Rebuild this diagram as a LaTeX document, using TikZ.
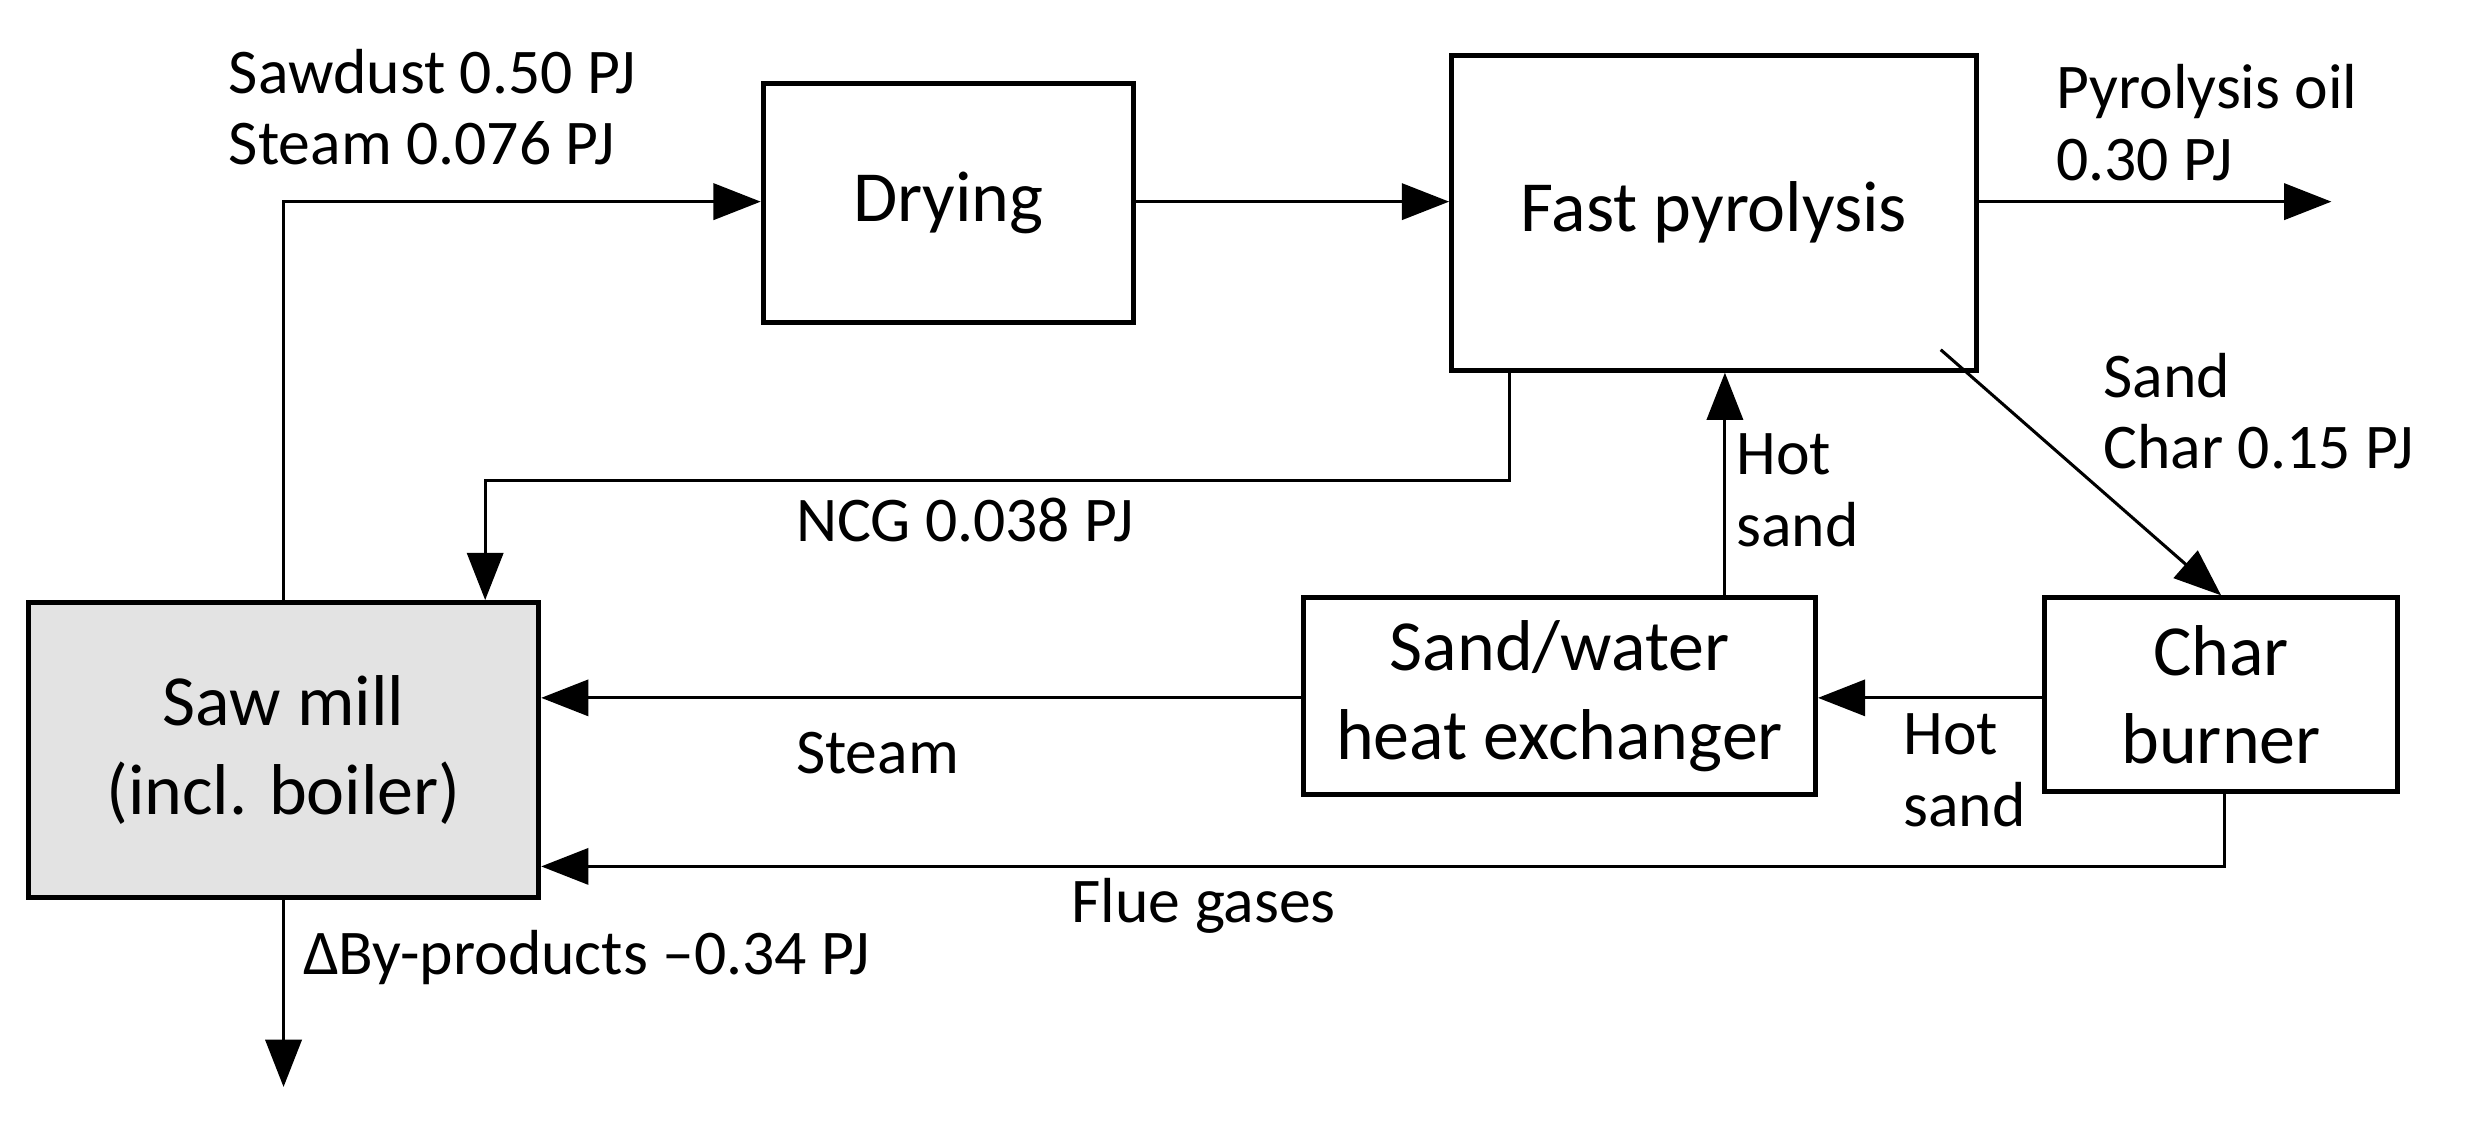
\documentclass[tikz,border=0pt]{standalone}
\usepackage{fontspec}
\setmainfont{Carlito}
\usetikzlibrary{arrows.meta}
\begin{document}
\begin{tikzpicture}[x=0.02cm,y=-0.02cm,
  box/.style={draw,line width=1.8pt,inner sep=0pt,align=center,font=\fontsize{26}{32}\selectfont},
  ar/.style={line width=1.1pt,-{Triangle[length=0.6cm,width=0.46cm]}},
  lb/.style={anchor=west,inner sep=0pt,align=left,font=\fontsize{23}{26}\selectfont}]
\useasboundingbox (0,0) rectangle (1568,718);
\node[box,fill=gray!22,minimum width=324*0.02cm,minimum height=187*0.02cm] (saw) at (180,476) {Saw mill\\(incl. boiler)};
\node[box,minimum width=235*0.02cm,minimum height=152*0.02cm] (dry) at (602,129) {Drying};
\node[box,minimum width=333*0.02cm,minimum height=200*0.02cm] (fp) at (1088,135) {Fast pyrolysis};
\node[box,minimum width=325*0.02cm,minimum height=125*0.02cm] (hx) at (990,442) {Sand/water\\heat exchanger};
\node[box,minimum width=224*0.02cm,minimum height=123*0.02cm] (cb) at (1410,441) {Char\\burner};
\coordinate (oil) at (1480,128);
\coordinate (byp) at (180,690);
\draw[ar] (saw.north) -- (180,128) -- (dry.west |- 0,128);
\draw[ar] (dry.east |- 0,128) -- (fp.west |- 0,128);
\draw[ar] (fp.east |- 0,128) -- (oil);
\draw[ar] (fp.south -| 958,0) -- (958,305) -- (308,305) -- (saw.north -| 308,0);
\draw[ar] (1232,222) -- (cb.north);
\draw[ar] (hx.north -| 1095,0) -- (fp.south -| 1095,0);
\draw[ar] (cb.west |- 0,443) -- (hx.east |- 0,443);
\draw[ar] (hx.west |- 0,443) -- (saw.east |- 0,443);
\draw[ar] (cb.south -| 1412,0) -- (1412,550) -- (saw.east |- 0,550);
\draw[ar] (saw.south -| 180,0) -- (byp);
\node[lb] (l1) at (145,68) {Sawdust 0.50 PJ\\Steam 0.076 PJ};
\node[lb] (l2) at (1305,78) {Pyrolysis oil\\0.30 PJ};
\node[lb] (l3) at (505,330) {NCG 0.038 PJ};
\node[lb] (l4) at (1335,261) {Sand\\Char 0.15 PJ};
\node[lb] (l5) at (1102,311) {Hot\\sand};
\node[lb] (l6) at (1208,489) {Hot\\sand};
\node[lb] (l7) at (505,478) {Steam};
\node[lb] (l8) at (680,575) {Flue gases};
\node[lb] (l9) at (192,608) {ΔBy-products –0.34 PJ};
\end{tikzpicture}
\end{document}
